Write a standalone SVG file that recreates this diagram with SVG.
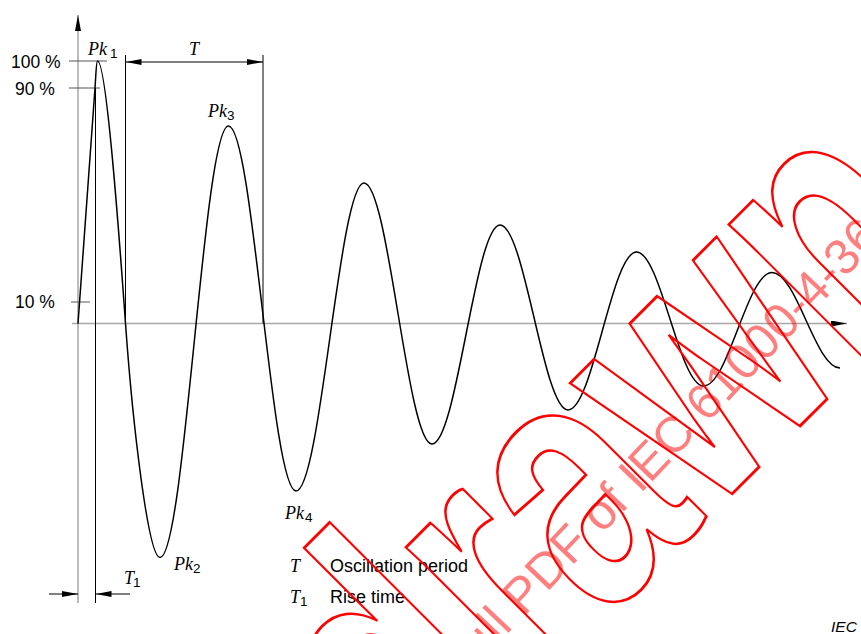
<svg xmlns="http://www.w3.org/2000/svg" width="861" height="634" viewBox="0 0 861 634">
<defs>
<style>
.axis{stroke:#a8a8a8;stroke-width:1.3;fill:none}
.vaxis{stroke:#7a7a7a;stroke-width:1;fill:none}
.tick{stroke:#555;stroke-width:1;fill:none}
.blk{stroke:#000;stroke-width:1;fill:none}
.curve{stroke:#000;stroke-width:1.5;fill:none;stroke-linejoin:round}
.lbl{font-family:"Liberation Sans",Arial,sans-serif;font-size:17.5px;fill:#000}
.sym{font-family:"Liberation Serif","Times New Roman",serif;font-style:italic;font-size:18px;fill:#000}
.sub{font-family:"Liberation Sans",Arial,sans-serif;font-size:13.5px;fill:#000}
.leg{font-family:"Liberation Sans",Arial,sans-serif;font-size:18px;fill:#000}
.wm1{font-family:"Liberation Sans",Arial,sans-serif;font-weight:bold;font-size:265px;fill:none;stroke:#ff0000;stroke-width:2.5}
.wm2{font-family:"Liberation Sans",Arial,sans-serif;font-size:50px;fill:#ff0000;fill-opacity:0.5}
</style>
<marker id="ar" viewBox="0 0 16 6" refX="16" refY="3" markerWidth="16" markerHeight="6" orient="auto-start-reverse" markerUnits="userSpaceOnUse">
<path d="M0,0 L16,3 L0,6 z" fill="#000"/>
</marker>
</defs>
<rect width="861" height="634" fill="#fff"/>

<g id="connectors">
<path id="x-axis" class="axis" d="M72,323.5 H847" marker-end="url(#ar)"/>
<path id="y-axis" class="vaxis" d="M78,603 V15" marker-end="url(#ar)"/>
<path class="tick" d="M69,61 H107"/>
<path class="tick" d="M69,88 H100"/>
<path class="tick" d="M71,302 H90"/>
<path class="blk" d="M95.5,88 V603"/>
<path class="blk" d="M125.5,55 V323.5"/>
<path class="blk" d="M263,55 V323.5"/>
<path class="blk" d="M125.5,62 H263" marker-start="url(#ar)" marker-end="url(#ar)"/>
<path class="blk" d="M49,594 H78" marker-end="url(#ar)"/>
<path class="blk" d="M130,594 H95.5" marker-end="url(#ar)"/>
</g>

<g id="waveform">
<path class="curve" d="M78,323.5 L95,88 C96,74 96.3,61 97.5,61 C106.5,61 119.5,239.5 125.5,323.5 C132.5,421.5 148,557.5 160,557.5 C184.9,557.5 203.6,126 228.5,126 C253,126 271.5,491 296,491 C320.7,491 339.3,183 364,183 C388.7,183 407.3,444 432,444 C456.7,444 475.3,225 500,225 C524.7,225 543.3,410 568,410 C592.9,410 611.6,252 636.5,252 C660.8,252 679.2,386 703.5,386 C728.4,386 747.1,272.5 772,272.5 C796.7,272.5 815.3,368 840,368"/>
</g>

<g id="axis-labels">
<text class="lbl" x="11" y="68">100 %</text>
<text class="lbl" x="15" y="94.5">90 %</text>
<text class="lbl" x="15" y="308">10 %</text>
</g>

<g id="peak-labels">
<g id="pk1"><text class="sym" x="88" y="55">Pk</text><text class="sub" x="110" y="58">1</text></g>
<g id="pk2"><text class="sym" x="174" y="570">Pk</text><text class="sub" x="193" y="573">2</text></g>
<g id="pk3"><text class="sym" x="208" y="117">Pk</text><text class="sub" x="227" y="120">3</text></g>
<g id="pk4"><text class="sym" x="285" y="519">Pk</text><text class="sub" x="305" y="522">4</text></g>
<g id="t-label"><text class="sym" x="189" y="55">T</text></g>
<g id="t1-label"><text class="sym" x="124" y="584">T</text><text class="sub" x="133" y="587">1</text></g>
</g>

<g id="legend">
<text class="sym" x="290" y="572">T</text>
<text class="leg" x="330" y="572">Oscillation period</text>
<text class="sym" x="290" y="603">T</text><text class="sub" x="300" y="606">1</text>
<text class="leg" x="330" y="603">Rise time</text>
</g>

<text id="iec" x="831" y="632" font-family="Liberation Sans, Arial, sans-serif" font-style="italic" font-size="15.5">IEC</text>

<g id="watermark">
<text class="wm1" vector-effect="non-scaling-stroke" transform="translate(613 613) rotate(-45) scale(1 1.377)" x="-851" y="0">Withdrawn</text>
<text class="wm2" transform="translate(754.9 373.3) rotate(-46.5)" x="-414" y="0">full PDF of IEC 61000-4-36</text>
</g>
</svg>
